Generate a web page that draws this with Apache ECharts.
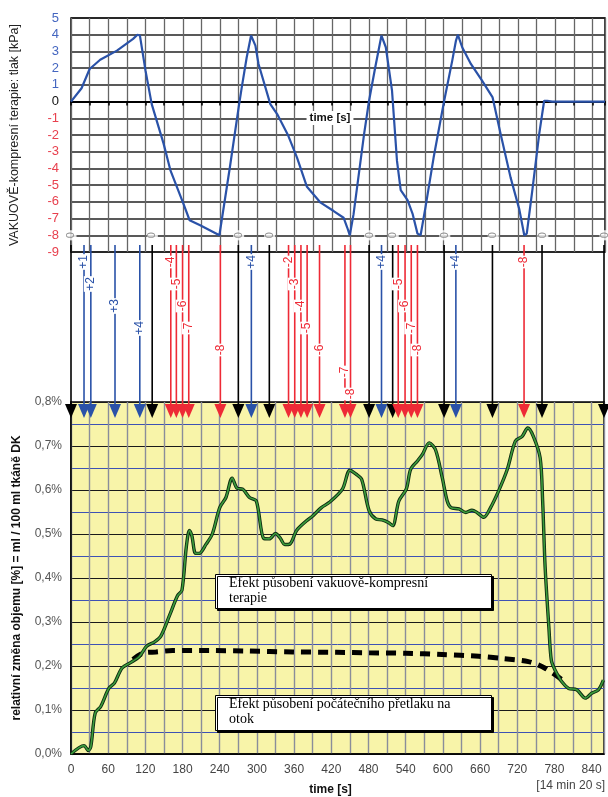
<!DOCTYPE html>
<html>
<head>
<meta charset="utf-8">
<script src="https://cdn.jsdelivr.net/npm/echarts@6.0.0/dist/echarts.min.js"></script>
<style>
  html, body { margin: 0; padding: 0; background: #fff; }
  #chart { width: 608px; height: 797px; }
</style>
</head>
<body>
<div id="chart"></div>
<script>
// pressure of the vacuum-compression therapy [kPa]
const pressureTime = [0, 17, 30, 47, 74, 100, 107, 111, 120, 130, 149, 160, 181, 191, 208, 239, 256, 270, 275, 283, 290, 297, 302, 321, 332, 350, 364, 380, 402, 423, 439, 445, 449, 455, 472, 480, 485, 490, 500, 507, 517, 525, 531, 542, 550, 558, 563, 571, 584, 601, 614, 620, 623, 630, 644, 662, 679, 692, 708, 722, 730, 734, 743, 754, 762, 767, 775, 860];
const pressureValue = [0, 0.8, 1.95, 2.5, 3.05, 3.75, 4.0, 3.95, 1.85, -0.15, -2.5, -4.1, -6.1, -7.1, -7.4, -8.0, -3.9, -0.35, 0.85, 2.65, 3.95, 3.35, 2.25, -0.15, -0.75, -2.05, -3.35, -5.1, -6.05, -6.55, -6.95, -7.55, -8.0, -6.75, -1.95, 0.05, 1.05, 2.05, 3.95, 3.25, 0.65, -3.55, -5.3, -5.9, -6.7, -7.9, -8.0, -6.3, -3.35, 0.05, 2.45, 3.65, 4.0, 3.25, 2.25, 1.25, 0.25, -1.95, -4.55, -6.45, -8.0, -7.9, -5.3, -1.95, 0.05, 0.05, 0, 0];

// relative volume change [%]
const volumeTime = [0, 21, 28, 32, 39, 48, 61, 70, 82, 94, 110, 122, 135, 145, 159, 172, 179, 186, 191, 195, 201, 207, 218, 228, 240, 250, 260, 268, 277, 288, 299, 311, 320, 330, 337, 345, 353, 364, 380, 390, 404, 417, 438, 450, 460, 469, 481, 492, 502, 512, 519, 529, 541, 548, 559, 567, 578, 588, 599, 607, 613, 626, 637, 647, 655, 666, 677, 690, 704, 717, 728, 737, 746, 757, 761, 765, 771, 775, 781, 792, 803, 816, 830, 840, 851, 859];
const volumeValue = [0, 0.019, 0.008, 0.017, 0.093, 0.108, 0.149, 0.161, 0.195, 0.206, 0.221, 0.245, 0.255, 0.268, 0.315, 0.36, 0.372, 0.47, 0.508, 0.496, 0.456, 0.456, 0.477, 0.5, 0.56, 0.583, 0.627, 0.604, 0.602, 0.583, 0.575, 0.49, 0.489, 0.501, 0.492, 0.476, 0.477, 0.508, 0.53, 0.541, 0.56, 0.572, 0.602, 0.645, 0.636, 0.624, 0.553, 0.534, 0.532, 0.526, 0.519, 0.575, 0.602, 0.647, 0.666, 0.681, 0.707, 0.692, 0.628, 0.575, 0.56, 0.557, 0.549, 0.554, 0.549, 0.538, 0.56, 0.598, 0.647, 0.711, 0.722, 0.741, 0.722, 0.673, 0.575, 0.425, 0.289, 0.213, 0.191, 0.164, 0.149, 0.146, 0.127, 0.138, 0.146, 0.168];

// effect of the initial overpressure (dashed)
const baseTime = [100, 116, 137, 164, 224, 283, 358, 428, 481, 540, 599, 658, 696, 738, 765, 797];
const baseValue = [0.215, 0.229, 0.232, 0.235, 0.235, 0.234, 0.232, 0.231, 0.23, 0.229, 0.226, 0.222, 0.217, 0.21, 0.195, 0.164];

// pressure-step markers
const arrowTime = [0, 21, 32, 71, 111, 131, 161, 170, 180, 190, 241, 270, 291, 320, 351, 361, 371, 381, 401, 442, 451, 481, 501, 519, 528, 539, 549, 559, 602, 621, 680, 731, 760, 860];
const arrowLabel = ['', '+1', '+2', '+3', '+4', '', '-4', '-5', '-6', '-7', '-8', '', '+4', '', '-2', '-3', '-4', '-5', '-6', '-7', '-8', '', '+4', '', '-5', '-6', '-7', '-8', '', '+4', '', '-8', '', ''];
const arrowLane = [0, 0, 1, 2, 3, 0, 0, 1, 2, 3, 4, 0, 0, 0, 0, 1, 2, 3, 4, 5, 6, 0, 0, 0, 1, 2, 3, 4, 0, 0, 0, 0, 0, 0];

const FONT = '"Liberation Sans", Arial, sans-serif';

function arrowColor (label) {
    if (label === '') return '#000';
    return label[0] === '+' ? '#2a52a8' : '#ee2a36';
}

function renderArrow (params, api) {
    const i = params.dataIndex;
    const t = api.value(0);
    const top = api.coord([t, 1]);
    const bot = api.coord([t, 0]);
    const label = arrowLabel[i];
    const color = arrowColor(label);
    const children = [
        { type: 'line', shape: { x1: top[0], y1: top[1], x2: top[0], y2: bot[1] - 12 }, style: { stroke: color, lineWidth: 1.6 } },
        { type: 'polygon', shape: { points: [[top[0] - 6, bot[1] - 14], [top[0] + 6, bot[1] - 14], [top[0], bot[1]]] }, style: { fill: color } }
    ];
    if (label) {
        children.push({
            type: 'text',
            x: top[0],
            y: top[1] + 17 + arrowLane[i] * 22,
            rotation: Math.PI / 2,
            style: {
                text: label, fill: color, fontSize: 12, fontFamily: FONT,
                align: 'center', verticalAlign: 'middle', backgroundColor: '#fff', padding: [1, 1]
            }
        });
    }
    return { type: 'group', children: children };
}

const chart = echarts.init(document.getElementById('chart'));

const zeroTimes = arrowTime.filter(function (t, i) { return arrowLabel[i] === ''; });

const options = {
    animation: false,
    backgroundColor: '#fff',
    grid: [
        { left: 71, right: 3, top: 18, height: 234, show: true, backgroundColor: '#fff', borderColor: '#000', borderWidth: 1.5 },
        { left: 71, right: 4, top: 402, height: 354, show: true, backgroundColor: '#f8f4a9', borderColor: '#000', borderWidth: 1.5 },
        { left: 71, right: 4, top: 245, height: 173, show: false }
    ],
    xAxis: [{
        gridIndex: 0, type: 'value', min: 0, max: 860, interval: 30,
        axisLine: { onZero: true, lineStyle: { color: '#000', width: 2 } },
        axisTick: { show: true, length: 4, lineStyle: { color: '#000', width: 1.5 } },
        axisLabel: { show: false },
        splitLine: { show: true, lineStyle: { color: '#666', width: 1.3 } }
    }, {
        gridIndex: 1, type: 'value', min: 0, max: 860, interval: 60,
        axisLine: { lineStyle: { color: '#000', width: 1.5 } },
        axisTick: { show: false },
        minorTick: { show: false, splitNumber: 2 },
        axisLabel: {
            color: '#444', fontFamily: FONT, fontSize: 12, margin: 10,
            formatter: function (v) { return v > 840 ? '' : String(v); }
        },
        splitLine: { show: true, lineStyle: { color: '#8a8d9a', width: 1.4 } },
        minorSplitLine: { show: true, lineStyle: { color: '#8a8d9a', width: 1.4 } },
        name: 'time [s]', nameLocation: 'middle', nameGap: 30,
        nameTextStyle: { fontFamily: FONT, fontSize: 12, fontWeight: 'bold', color: '#111', padding: [0, 14, 0, 0] }
    }, {
        gridIndex: 2, type: 'value', min: 0, max: 860, show: false
    }],
    yAxis: [{
        gridIndex: 0, type: 'value', min: -9, max: 5, interval: 1,
        axisLine: { show: false },
        axisTick: { show: false },
        axisLabel: {
            fontFamily: FONT, fontSize: 13, margin: 12,
            color: function (v) { v = Number(v); return v > 0 ? '#4466c0' : (v < 0 ? '#e8404e' : '#111'); }
        },
        splitLine: { show: true, lineStyle: { color: '#222', width: 1.5 } },
        name: 'VAKUOVĚ-kompresní terapie: tlak [kPa]', nameLocation: 'middle', nameGap: 50,
        nameTextStyle: { fontFamily: FONT, fontSize: 12.5, color: '#222' }
    }, {
        gridIndex: 1, type: 'value', min: 0, max: 0.8, interval: 0.1,
        axisLine: { show: true, lineStyle: { color: '#000', width: 1.5 } },
        axisTick: { show: false },
        minorTick: { show: false, splitNumber: 2 },
        axisLabel: {
            color: '#555', fontFamily: FONT, fontSize: 12, margin: 9,
            formatter: function (v) { return v.toFixed(1).replace('.', ',') + '%'; }
        },
        splitLine: { show: true, lineStyle: { color: '#1a1a1a', width: 1.2 } },
        minorSplitLine: { show: true, lineStyle: { color: '#3e52b4', width: 1 } },
        name: 'relativní změna objemu [%] = ml / 100 ml tkáně DK', nameLocation: 'middle', nameGap: 48,
        nameTextStyle: { fontFamily: FONT, fontSize: 12, fontWeight: 'bold', color: '#111' }
    }, {
        gridIndex: 2, type: 'value', min: 0, max: 1, show: false
    }],
    series: [{
        type: 'line', xAxisIndex: 0, yAxisIndex: 0,
        data: pressureTime.map(function (t, i) { return [t, pressureValue[i]]; }),
        symbol: 'none', lineStyle: { color: '#2a52a8', width: 2.2 }, z: 5
    }, {
        type: 'scatter', xAxisIndex: 0, yAxisIndex: 0,
        data: zeroTimes.map(function (t) { return [t, -8]; }),
        symbolSize: 1, itemStyle: { color: 'rgba(0,0,0,0)' },
        label: {
            show: true, position: 'inside', formatter: '0', rotate: 90,
            color: '#777', fontFamily: FONT, fontSize: 11, backgroundColor: '#fff', padding: [0, 2]
        },
        z: 6
    }, {
        type: 'line', xAxisIndex: 1, yAxisIndex: 1,
        data: baseTime.map(function (t, i) { return [t, baseValue[i]]; }),
        symbol: 'none', smooth: 0.3,
        lineStyle: { color: '#000', width: 5, type: [10, 7] }, z: 4
    }, {
        type: 'line', xAxisIndex: 1, yAxisIndex: 1,
        data: volumeTime.map(function (t, i) { return [t, volumeValue[i]]; }),
        symbol: 'none', smooth: 0.3,
        lineStyle: { color: '#0d2c12', width: 3.4 }, z: 5
    }, {
        type: 'line', xAxisIndex: 1, yAxisIndex: 1,
        data: volumeTime.map(function (t, i) { return [t, volumeValue[i]]; }),
        symbol: 'none', smooth: 0.3,
        lineStyle: { color: '#3c9c3c', width: 1.6 }, z: 6
    }, {
        type: 'custom', xAxisIndex: 2, yAxisIndex: 2,
        data: arrowTime.map(function (t) { return [t, 0]; }),
        renderItem: renderArrow, z: 10
    }],
    graphic: [{
        type: 'text', x: 330, y: 118, z: 21,
        style: {
            text: 'time [s]', fill: '#111', fontFamily: FONT, fontSize: 11.5, fontWeight: 'bold',
            align: 'center', verticalAlign: 'middle', backgroundColor: '#fff', padding: [1, 3]
        }
    }, {
        type: 'rect', left: 215, top: 574, z: 20,
        shape: { width: 276, height: 34 },
        style: { fill: '#fff', stroke: '#000', lineWidth: 1, shadowColor: '#000', shadowOffsetX: 2, shadowOffsetY: 2 }
    }, {
        type: 'text', left: 229, top: 576, z: 21,
        style: { text: 'Efekt působení vakuově-kompresní\nterapie', fill: '#000', font: '14px "Liberation Serif", "Times New Roman", serif', lineHeight: 15 }
    }, {
        type: 'rect', left: 215, top: 695, z: 20,
        shape: { width: 276, height: 35 },
        style: { fill: '#fff', stroke: '#000', lineWidth: 1, shadowColor: '#000', shadowOffsetX: 2, shadowOffsetY: 2 }
    }, {
        type: 'text', left: 229, top: 697, z: 21,
        style: { text: 'Efekt působení počátečního přetlaku na\notok', fill: '#000', font: '14px "Liberation Serif", "Times New Roman", serif', lineHeight: 15 }
    }, {
        type: 'text', right: 3, top: 780, z: 21,
        style: { text: '[14 min 20 s]', fill: '#444', font: '12px "Liberation Sans", Arial, sans-serif' }
    }]
};

chart.setOption(options);
window.onresize = function () {
    chart.resize();
};
</script>
</body>
</html>
